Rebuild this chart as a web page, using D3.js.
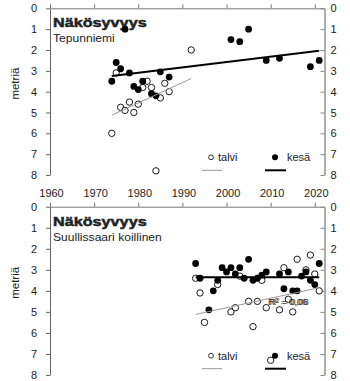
<!DOCTYPE html>
<html>
<head>
<meta charset="utf-8">
<script src="https://cdn.jsdelivr.net/npm/d3@7"></script>
<style>
  body { margin: 0; background: #fff; }
  svg { font-family: "Liberation Sans", Arial, sans-serif; }
</style>
</head>
<body>
<svg id="chart" width="350" height="381"></svg>
<script>
// x ticks / y ticks
const xTicks = [1960, 1970, 1980, 1990, 2000, 2010, 2020];
const yTicks = [0, 1, 2, 3, 4, 5, 6, 7, 8];

// Tepunniemi
const topTalviYear = [1974, 1975, 1976, 1977, 1978, 1979, 1980, 1981, 1982, 1983, 1984, 1985, 1986, 1987, 1992];
const topTalviDepth = [6.0, 3.1, 4.75, 4.9, 4.5, 5.0, 4.6, 3.8, 3.5, 3.8, 7.8, 4.3, 3.6, 4.0, 2.0];
const topKesaYear = [1974, 1975, 1976, 1977, 1978, 1979, 1980, 1981, 1983, 1984, 1985, 1987, 2001, 2003, 2005, 2009, 2012, 2019, 2021];
const topKesaDepth = [3.5, 2.6, 2.9, 1.0, 3.1, 3.75, 3.9, 3.5, 4.1, 4.2, 3.05, 3.3, 1.5, 1.6, 1.0, 2.5, 2.4, 2.8, 2.5];
const topTalviTrend = [[1974, 5.13], [1992, 3.37]];
const topKesaTrend = [[1974, 3.25], [2021, 2.04]];

// Suullissaari koillinen
const botTalviYear = [1993, 1994, 1995, 1998, 2001, 2002, 2003, 2005, 2006, 2007, 2008, 2009, 2010, 2012, 2013, 2014, 2015, 2016, 2018, 2019, 2020, 2021];
const botTalviDepth = [3.4, 4.1, 5.5, 3.7, 5.0, 4.8, 3.3, 4.5, 5.7, 4.5, 3.5, 4.8, 7.3, 4.9, 2.9, 4.4, 5.0, 2.5, 3.0, 2.3, 3.2, 4.0];
const botKesaYear = [1993, 1994, 1996, 1997, 1998, 1999, 2000, 2001, 2002, 2003, 2004, 2005, 2006, 2007, 2008, 2009, 2012, 2013, 2014, 2015, 2016, 2017, 2018, 2019, 2020, 2021];
const botKesaDepth = [2.7, 3.4, 4.9, 4.0, 3.5, 2.9, 3.1, 2.9, 3.2, 2.9, 3.4, 2.5, 3.5, 3.4, 3.25, 3.1, 3.2, 3.9, 3.1, 4.0, 4.0, 3.3, 3.1, 3.5, 3.7, 2.7];
const botTalviTrend = [[1993, 5.12], [2021, 3.85]];
const botKesaTrend = [[1993, 3.35], [2021, 3.35]];

const panels = [
  { title: "Näkösyvyys", sub: "Tepunniemi", top: 8.3, bottom: 175,
    talvi: topTalviYear.map((y, i) => [y, topTalviDepth[i]]),
    kesa: topKesaYear.map((y, i) => [y, topKesaDepth[i]]),
    talviTrend: topTalviTrend, kesaTrend: topKesaTrend, r2: false },
  { title: "Näkösyvyys", sub: "Suullissaari koillinen", top: 206.7, bottom: 375,
    talvi: botTalviYear.map((y, i) => [y, botTalviDepth[i]]),
    kesa: botKesaYear.map((y, i) => [y, botKesaDepth[i]]),
    talviTrend: botTalviTrend, kesaTrend: botKesaTrend, r2: true }
];

const svg = d3.select("#chart");
const x = d3.scaleLinear().domain([1960, 2022.2]).range([50, 324.5]);
const axisCol = "#777";
const textCol = "#222";

function stretched(g, px, py, str, size, weight, sx) {
  return g.append("text")
    .attr("transform", `translate(${px},${py}) scale(${sx},1)`)
    .attr("font-size", size)
    .attr("font-weight", weight)
    .attr("fill", textCol)
    .text(str);
}

panels.forEach(p => {
  const y = d3.scaleLinear().domain([0, 8]).range([p.top, p.bottom]);
  const g = svg.append("g");

  // top x axis (no labels)
  const xa = g.append("g")
    .attr("transform", `translate(0,${y(0)})`)
    .call(d3.axisTop(x).tickValues(xTicks).tickSize(4).tickSizeOuter(0).tickFormat(""));
  xa.selectAll("path, line").attr("stroke", axisCol);

  // left axis
  const la = g.append("g")
    .attr("transform", `translate(${x.range()[0]},0)`)
    .call(d3.axisLeft(y).tickValues(yTicks).tickSize(4).tickSizeOuter(0).tickPadding(9));
  la.select(".domain").attr("stroke", "#666");
  la.selectAll("line").attr("stroke", "#666");
  la.selectAll("text").attr("font-size", 11).attr("fill", textCol)
    .attr("font-family", "Liberation Sans, Arial, sans-serif");

  // right axis, ticks pointing in
  const ra = g.append("g")
    .attr("transform", `translate(${x.range()[1]},0)`)
    .call(d3.axisRight(y).tickValues(yTicks).tickSizeInner(-4).tickSizeOuter(0).tickPadding(6));
  ra.select(".domain").attr("stroke", "#999").attr("stroke-width", 1.6);
  ra.selectAll("line").attr("stroke", "#888");
  ra.selectAll("text").attr("font-size", 11).attr("fill", textCol)
    .attr("font-family", "Liberation Sans, Arial, sans-serif");

  // y title
  g.append("text")
    .attr("transform", `translate(19,${(p.top + p.bottom) / 2 - 8}) rotate(-90)`)
    .attr("text-anchor", "middle")
    .attr("font-size", 11.5)
    .attr("fill", textCol)
    .text("metriä");

  // title + subtitle
  stretched(g, 53, p.top + 19, p.title, 13.5, "bold", 1.2)
    .attr("stroke", textCol).attr("stroke-width", 0.5);
  stretched(g, 53, p.top + 34, p.sub, 11, "normal", 1.1);

  // points
  g.selectAll(".talvi").data(p.talvi).join("circle")
    .attr("class", "talvi")
    .attr("cx", d => x(d[0])).attr("cy", d => y(d[1])).attr("r", 3.2)
    .attr("fill", "#fff").attr("stroke", "#000").attr("stroke-width", 0.9);
  g.selectAll(".kesa").data(p.kesa).join("circle")
    .attr("class", "kesa")
    .attr("cx", d => x(d[0])).attr("cy", d => y(d[1])).attr("r", 3.4)
    .attr("fill", "#000");

  // trend lines
  const line = d3.line().x(d => x(d[0])).y(d => y(d[1]));
  g.append("path").attr("d", line(p.talviTrend))
    .attr("fill", "none").attr("stroke", "#999").attr("stroke-width", 1);
  g.append("path").attr("d", line(p.kesaTrend))
    .attr("fill", "none").attr("stroke", "#000").attr("stroke-width", 2);

  if (p.r2) {
    g.append("text").attr("x", 268).attr("y", y(4.65))
      .attr("font-size", 9.5).attr("fill", "#333").text("R² = 0,06");
    g.append("text").attr("x", 269.5).attr("y", y(4.65))
      .attr("font-size", 9.5).attr("fill", "#333").text("R² = 0,08");
  }

  // legend
  const ly = p.top + 149;
  g.append("circle").attr("cx", 211).attr("cy", ly).attr("r", 2.4)
    .attr("fill", "#fff").attr("stroke", "#000").attr("stroke-width", 0.8);
  g.append("text").attr("x", 218).attr("y", ly + 4).attr("font-size", 11).attr("fill", textCol).text("talvi");
  g.append("circle").attr("cx", 275).attr("cy", ly).attr("r", 3)
    .attr("fill", "#000");
  g.append("text").attr("x", 287).attr("y", ly + 4).attr("font-size", 11).attr("fill", textCol).text("kesä");
  g.append("line").attr("x1", 202).attr("x2", 222).attr("y1", ly + 13).attr("y2", ly + 13)
    .attr("stroke", "#999").attr("stroke-width", 1);
  g.append("line").attr("x1", 265).attr("x2", 286).attr("y1", ly + 13).attr("y2", ly + 13)
    .attr("stroke", "#000").attr("stroke-width", 2);
});

// shared x labels between the panels
const xl = svg.append("g")
  .attr("transform", "translate(1,186)")
  .call(d3.axisBottom(x).tickValues(xTicks).tickSize(0).tickPadding(3).tickFormat(d3.format("d")));
xl.select(".domain").remove();
xl.selectAll("text").attr("font-size", 11).attr("fill", textCol)
  .attr("font-family", "Liberation Sans, Arial, sans-serif");
</script>
</body>
</html>
